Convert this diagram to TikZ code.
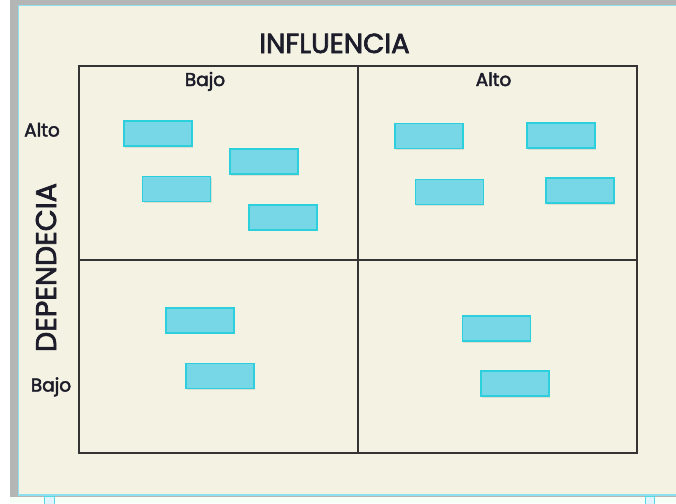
\documentclass[tikz,border=0pt]{standalone}
\usepackage{fontspec}
\setmainfont{Poppins}
\newfontfamily\medio{Poppins}[FakeBold=2.5]
\usetikzlibrary{shadows}
\definecolor{crema}{HTML}{F4F2E2}
\definecolor{marcogris}{HTML}{B4B6B6}
\definecolor{bordeazul}{HTML}{8EE0F0}
\definecolor{cajafondo}{HTML}{77D7E6}
\definecolor{cajaborde}{HTML}{2CD0DC}
\definecolor{texto}{HTML}{1C1C2A}
\definecolor{rejilla}{HTML}{343434}
\tikzset{
  caja/.style={draw=cajaborde, fill=cajafondo, line width=1.5pt, minimum width=68pt, minimum height=25pt, inner sep=0pt,
    drop shadow={opacity=0.18, shadow xshift=1pt, shadow yshift=-1.5pt}},
  etiqueta/.style={text=texto, font=\medio\fontsize{18.5}{20}\selectfont, anchor=base, inner sep=0pt},
  eje/.style={text=texto, font=\medio\fontsize{27.5}{30}\selectfont, anchor=base, inner sep=0pt},
  asa/.style={draw=cajaborde!80, fill=cyan!12, line width=1pt}
}
\begin{document}
\begin{tikzpicture}[x=1pt,y=-1pt]

    % Draw the slide frame
    \useasboundingbox (0,0) rectangle (676,503);
    \fill[white] (0,0) rectangle (676,503);
    \fill[marcogris] (10,0) rectangle (676,497);
    \fill[crema] (18,6) rectangle (676,494);
    \draw[bordeazul, line width=1pt] (18,6) -- (676,6);
    \draw[bordeazul, line width=1pt] (18,6) -- (18,494);
    \fill[green!4!white] (10,497) rectangle (676,503);
    \draw[bordeazul, line width=2pt] (18,495) -- (676,495);
    \draw[asa] (44,496) rectangle (54,506);
    \draw[asa] (645,496) rectangle (654,506);

    % Draw the grid
    \draw[rejilla, line width=1.5pt] (79,66) rectangle (637,453);
    \draw[rejilla, line width=1.5pt] (358,66) -- (358,453);
    \draw[rejilla, line width=1.5pt] (79,260) -- (637,260);

    % Draw the axis titles
    \node[eje] (influencia) at (334.5,53) {INFLUENCIA};
    \node[eje, rotate=90, font=\medio\fontsize{28.5}{30}\selectfont] (dependecia) at (56,267.5) {DEPENDECIA};

    % Draw the levels
    \node[etiqueta] (bajoI) at (205,86) {Bajo};
    \node[etiqueta] (altoI) at (493.5,86) {Alto};
    \node[etiqueta] (altoD) at (42,136.5) {Alto};
    \node[etiqueta] (bajoD) at (51,391.5) {Bajo};

    % Draw the boxes, top left
    \node[caja] (c1) at (157.8,133.5) {};
    \node[caja] (c2) at (264.2,161.5) {};
    \node[caja] (c3) at (176.7,188.8) {};
    \node[caja] (c4) at (283.2,217.3) {};

    % Draw the boxes, top right
    \node[caja] (c5) at (429,136.2) {};
    \node[caja] (c6) at (561,135.5) {};
    \node[caja] (c7) at (449.3,192) {};
    \node[caja] (c8) at (580,190.7) {};

    % Draw the boxes, bottom
    \node[caja] (c9) at (200.2,320.3) {};
    \node[caja] (c10) at (219.8,376) {};
    \node[caja] (c11) at (496.3,328.5) {};
    \node[caja] (c12) at (515.2,383.7) {};

\end{tikzpicture}
\end{document}
